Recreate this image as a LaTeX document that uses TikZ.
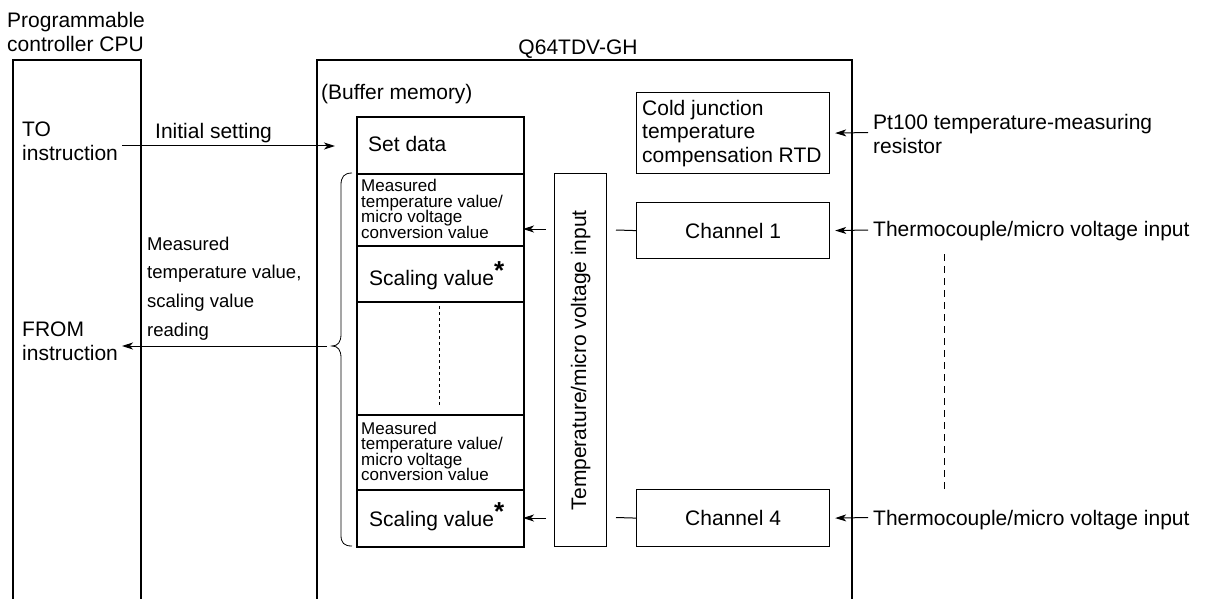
\documentclass[tikz,border=0pt]{standalone}
\usepackage{fontspec}
\setmainfont{Liberation Sans}
\usetikzlibrary{arrows.meta}
\newcommand\fmain{\fontsize{21}{23.8}\selectfont}
\newcommand\fsmall{\fontsize{17}{15.5}\selectfont\lineskiplimit=-20pt}
\newcommand\fmid{\fontsize{18.5}{28.7}\selectfont}
\newcommand\astx{\raisebox{6pt}{\fontsize{26}{26}\selectfont\bfseries *}}
\begin{document}
\begin{tikzpicture}[x=1pt,y=-1pt,
  box/.style={draw, line width=1.2pt, inner sep=0pt, anchor=north west, font=\fmain},
  cell/.style={draw, line width=1.7pt, inner sep=0pt, anchor=north west, minimum width=167pt},
  txt/.style={inner sep=0pt, font=\fmain, align=left},
  arr/.style={line width=1pt, -{Stealth[length=11pt,width=7pt,inset=3pt]}},
  conn/.style={line width=1pt},
  frame/.style={line width=1.4pt},
]
\useasboundingbox (0,0) rectangle (1208,599);

% outer frames (open at the bottom)
\draw[frame] (13,600) -- (13,60) -- (141,60) -- (141,600);
\draw[frame] (317,600) -- (317,60) -- (852,60) -- (852,600);

% labels
\node[txt, anchor=north west] (cpulbl) at (7,12) {Programmable\\controller CPU};
\node[txt, anchor=base] (modlbl) at (578,55) {Q64TDV-GH};
\node[txt, anchor=base west] (buflbl) at (321,100) {(Buffer memory)};
\node[txt, anchor=north west] (toins) at (22,122) {TO\\instruction};
\node[txt, anchor=north west] (fromins) at (22,321.4) {FROM\\instruction};
\node[txt, anchor=base west] (initlbl) at (155,138.3) {Initial setting};
\node[txt, anchor=north west, font=\fmid] (readlbl) at (147,236.5) {Measured\\temperature value,\\scaling value\\reading};

% buffer memory cells
\node[cell, minimum height=57pt] (setd) at (356,116) {};
\node[cell, minimum height=72pt] (meas1) at (356,173) {};
\node[cell, minimum height=56pt] (scal1) at (356,245) {};
\node[cell, minimum height=113pt] (gap) at (356,301) {};
\node[cell, minimum height=75pt] (meas2) at (356,414) {};
\node[cell, minimum height=57pt] (scal2) at (356,489) {};

\node[txt, anchor=base west] (setdt) at (368,151.7) {Set data};
\node[txt, anchor=north west, font=\fsmall] (meas1t) at (361,179.3) {Measured\\temperature value/\\micro voltage\\conversion value};
\node[txt, anchor=base west] (scal1t) at (369,285) {Scaling value\astx};
\node[txt, anchor=north west, font=\fsmall] (meas2t) at (361,421.9) {Measured\\temperature value/\\micro voltage\\conversion value};
\node[txt, anchor=base west] (scal2t) at (369,526) {Scaling value\astx};
\draw[line width=0.9pt, dash pattern=on 3pt off 3pt] (439,306) -- (439,407);

% brace
\coordinate (btip) at (332,346);
\draw[line width=0.8pt] (352,173) .. controls (344,173) and (341,177) .. (341,185)
  -- (341,334) .. controls (341,342) and (338,346) .. (btip)
  .. controls (338,346) and (341,350) .. (341,358)
  -- (341,535) .. controls (341,543) and (344,546) .. (352,546);

% temperature / micro voltage input block
\node[box, minimum width=52pt, minimum height=373pt] (tvi) at (554,173) {};
\node[txt, rotate=90] (tvit) at (tvi.center) {Temperature/micro voltage input};

% right side boxes
\node[box, minimum width=193pt, minimum height=81pt] (cj) at (636,92) {};
\node[txt, anchor=north west] (cjt) at (642,99.7) {Cold junction\\temperature\\compensation RTD};
\node[box, minimum width=193pt, minimum height=56pt] (ch1) at (636,202) {Channel 1};
\node[box, minimum width=193pt, minimum height=57pt] (ch4) at (636,489) {Channel 4};

\node[txt, anchor=north west] (pt100) at (873,114) {Pt100 temperature-measuring\\resistor};
\node[txt, anchor=base west] (tc1) at (873,236.7) {Thermocouple/micro voltage input};
\node[txt, anchor=base west] (tc4) at (873,525.7) {Thermocouple/micro voltage input};
\draw[line width=0.9pt, dash pattern=on 7pt off 5pt] (944,254) -- (944,492);

% connectors
\coordinate (isA) at (122,146);
\coordinate (isB) at (335,146);
\draw[arr] (isA) -- (isB);
\coordinate (frA) at (327,346);
\coordinate (frB) at (122,346);
\draw[arr] (frA) -- (frB);

\coordinate (m1a) at (546,229);
\coordinate (m1b) at (523,229);
\draw[arr] (m1a) -- (m1b);
\coordinate (s2a) at (546,518);
\coordinate (s2b) at (523,518);
\draw[arr] (s2a) -- (s2b);

\coordinate (c1a) at (616,230);
\draw[conn] (c1a) -- (ch1.west);
\coordinate (c4a) at (616,517.5);
\draw[conn] (c4a) -- (ch4.west);

\coordinate (pta) at (868,132.5);
\draw[arr] (pta) -- ([xshift=5pt]cj.east);
\coordinate (t1a) at (868,230);
\draw[arr] (t1a) -- ([xshift=5pt]ch1.east);
\coordinate (t4a) at (868,517.5);
\draw[arr] (t4a) -- ([xshift=5pt]ch4.east);
\end{tikzpicture}
\end{document}
